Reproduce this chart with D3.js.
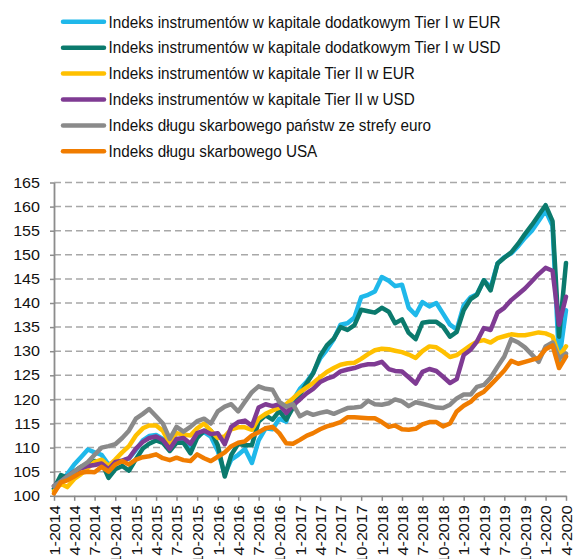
<!DOCTYPE html>
<html>
<head>
<meta charset="utf-8">
<script src="https://cdn.jsdelivr.net/npm/d3@7"></script>
<style>
  html, body { margin: 0; padding: 0; background: #fff; }
  svg { display: block; }
  text { font-family: "Liberation Sans", Arial, sans-serif; fill: #111; }
</style>
</head>
<body>
<svg id="chart" width="574" height="559"></svg>
<script>
// ---- data ----
const startMonth = "2014-01";
const seriesNames = [
  "Indeks instrumentów w kapitale dodatkowym Tier I w EUR",
  "Indeks instrumentów w kapitale dodatkowym Tier I w USD",
  "Indeks instrumentów w kapitale Tier II w EUR",
  "Indeks instrumentów w kapitale Tier II w USD",
  "Indeks długu skarbowego państw ze strefy euro",
  "Indeks długu skarbowego USA"
];
const seriesColors = ["#1fb8ea", "#0b7a6d", "#ffc000", "#7f3b93", "#8a8a8a", "#f07c00"];

const at1Eur = [101.5,103,104.5,106.5,108,109.6,109,108.5,106.5,107,
  107.3,107.7,109.5,111.5,112.4,112.6,111.8,110,111.8,111.3,
  109.8,112.5,113.2,112.3,109.3,104.5,107.5,108.5,109.7,106.8,
  111.5,114,113.8,116,115.4,119.8,122.2,123.7,125.5,128.5,
  130.3,132.5,135.5,135.8,137,141.2,141.7,142.4,145.4,144.6,
  143.5,143.8,139,137.5,140.2,139.3,140,137.8,135.5,134.5,
  139.5,141.2,141.8,144.7,143.2,148.2,149.5,150.3,151.8,153.5,
  155,157,159.2,156,128,138.5];
const at1Usd = [101.5,104.3,103.8,105,106,106.5,107.2,107,103.7,105.5,
  106.2,105.2,107.6,109.8,110.8,111.5,111,109.3,111,111,
  108.8,112,113.5,113.5,110.5,104,108.5,110.8,110.5,110.5,
  115.4,116.7,115.8,117.6,115.8,118.3,121,123.4,125.4,129,
  131.2,132.6,135,134.4,135.4,138.6,138.3,138,139,138.2,
  135.8,136.6,133.8,132.5,135.9,136.1,136.1,135.1,133,134,
  138.5,140.8,141.7,144.7,142.6,148.2,149.4,150.5,152.3,154.3,
  156.2,158.2,160.3,157,133,148.3];
const t2Eur = [101,102.5,101.8,103.5,104.5,105.8,107,107.5,106.2,107.5,
  109,110.3,112.5,114,114.6,114.6,113.5,110.8,113,112.7,
  112.5,114,115,113.5,112,112.3,113.8,114.2,114.2,113.7,
  116,117,117.7,118.3,119,120.2,121.5,122.5,123.4,124.6,
  125.7,126.5,127.2,127.5,127.6,128.4,129.4,130.2,130.5,130.4,
  130.1,129.8,129.3,128.6,130,131,130.8,129.9,128.8,129.2,
  130.2,131.2,132,132.3,131.8,132.7,133.1,133.5,133.3,133.3,
  133.6,133.9,133.7,133.1,129,131];
const t2Usd = [102,103,104,105,105.7,106.2,106.4,106.7,105.5,107,
  107.3,107.8,109.8,111.2,112,112.3,111.6,109.7,111.8,112,
  110.8,113,113.5,112.8,113,110.7,114.3,115.3,115.6,114.5,
  118.3,119,118.6,119,117.2,118.8,120,121.3,122.2,123.6,
  124.3,124.8,125.8,126.2,126.5,127,127.3,127.3,127.8,126.3,
  125.9,125.8,124.6,123.3,125.7,126.3,125.9,124.7,123.4,124.2,
  129.2,130.3,132,134.8,134.4,138,139,140.6,141.8,143,
  144.5,146,147.3,146.7,135.5,141.3];
const govEuro = [102,103,104,105,106,107,108.5,110,110.3,110.7,
  112,113.5,116,117,118,116.5,115,111.8,114.3,113.3,
  114.3,115.5,116,115,117.5,118.5,119,117.5,119.5,121.5,
  122.7,122.2,122,119.5,118.5,119,116.5,117.3,116.8,117.2,
  117.5,117,117.6,118.2,118.3,118.5,119.7,119,118.9,119.2,
  120,119.6,118.6,119.4,119.1,118.7,118.3,118.2,118.9,120.2,
  121,121,122.6,123,124.5,126.8,128.9,132.5,131.8,130.8,
  129.3,127.8,131,131.8,128.5,129.5];
const govUsa = [100.5,102.8,103.2,104,104.8,105,104.9,106,105,106.5,
  107.2,106.5,107.5,108,108.2,108.6,107.8,107.4,107.9,107.4,
  107.2,108.6,107.8,107.2,108.1,109,110.3,111,111.3,112.5,
  113.2,114,114.3,113,110.9,110.8,111.6,112.5,113,113.8,
  114.4,114.8,115.3,116.3,116.3,116.2,116.1,116.1,115.3,114.3,
  114.6,113.8,113.7,113.9,114.8,115.3,115.3,114.4,115,117.5,
  118.7,119.5,120.8,121.6,123,124.5,126,128,127.4,127.8,
  128.2,128.6,130.4,131.2,126.5,128.9];

const yTicks = [100,105,110,115,120,125,130,135,140,145,150,155,160,165];
const xTickLabels = ["1-2014","4-2014","7-2014","10-2014","1-2015","4-2015","7-2015","10-2015",
  "1-2016","4-2016","7-2016","10-2016","1-2017","4-2017","7-2017","10-2017",
  "1-2018","4-2018","7-2018","10-2018","1-2019","4-2019","7-2019","10-2019",
  "1-2020","4-2020"];

const seriesValues = [at1Eur, at1Usd, t2Eur, t2Usd, govEuro, govUsa];

// ---- layout ----
const svg = d3.select("#chart");
const plot = { left: 54, right: 566, top: 182.5, bottom: 495.8 };
const parseMonth = d3.timeParse("%Y-%m");
const parseTick = d3.timeParse("%m-%Y");
const start = parseMonth(startMonth);
const dates = at1Eur.map((_, i) => d3.timeMonth.offset(start, i));
const tickDates = xTickLabels.map(s => parseTick(s));

const x = d3.scaleTime().domain([tickDates[0], tickDates[tickDates.length - 1]]).range([plot.left, plot.right]);
const y = d3.scaleLinear().domain([100, 165]).range([plot.bottom, plot.top]);

const STRETCH = 1.15;
function stretch(sel, f) {
  sel.each(function () {
    const w = this.getComputedTextLength();
    d3.select(this).attr("textLength", w * f).attr("lengthAdjust", "spacingAndGlyphs");
  });
}

// gridlines
svg.append("g").selectAll("line").data(yTicks.filter(v => v > 100)).join("line")
  .attr("x1", plot.left).attr("x2", plot.right)
  .attr("y1", d => y(d)).attr("y2", d => y(d))
  .attr("stroke", "#a8a8a8").attr("stroke-width", 1.5).attr("stroke-dasharray", "7,4");

// y axis
const yAxis = svg.append("g").attr("transform", `translate(${plot.left},0)`)
  .call(d3.axisLeft(y).tickValues(yTicks).tickSize(4).tickSizeOuter(0).tickPadding(10));
yAxis.select(".domain").attr("stroke", "#8c8c8c").attr("stroke-width", 1.8);
yAxis.selectAll(".tick line").attr("stroke", "#8c8c8c").attr("stroke-width", 1.5);
yAxis.selectAll(".tick text").attr("font-size", 14.5).attr("fill", "#111")
  .attr("font-family", "Liberation Sans, Arial, sans-serif").attr("x", -14);
stretch(yAxis.selectAll(".tick text"), 1.11);

// x axis
const xAxis = svg.append("g").attr("transform", `translate(0,${plot.bottom})`)
  .call(d3.axisBottom(x).tickValues(tickDates).tickFormat((d, i) => xTickLabels[i]).tickSize(5).tickSizeOuter(0));
xAxis.select(".domain").attr("stroke", "#8c8c8c").attr("stroke-width", 1.8);
xAxis.selectAll(".tick line").attr("stroke", "#8c8c8c").attr("stroke-width", 1.5);
xAxis.selectAll(".tick text").attr("font-size", 14.5).attr("fill", "#111")
  .attr("font-family", "Liberation Sans, Arial, sans-serif")
  .attr("text-anchor", "end")
  .attr("transform", "rotate(-90)")
  .attr("x", -9.5).attr("y", 0).attr("dy", "0.36em");
stretch(xAxis.selectAll(".tick text"), 1.11);

// lines
const line = d3.line().x((d, i) => x(dates[i])).y(d => y(d));
svg.append("g").selectAll("path").data(seriesValues).join("path")
  .attr("d", d => line(d))
  .attr("fill", "none")
  .attr("stroke", (d, i) => seriesColors[i])
  .attr("stroke-width", 4.5)
  .attr("stroke-linejoin", "round")
  .attr("stroke-linecap", "round");

// legend
const legend = svg.append("g");
const legY0 = 21.8, legStep = 25.9;
const rows = legend.selectAll("g").data(seriesNames).join("g")
  .attr("transform", (d, i) => `translate(0,${legY0 + i * legStep})`);
rows.append("line").attr("x1", 63).attr("x2", 104).attr("y1", 0).attr("y2", 0)
  .attr("stroke", (d, i) => seriesColors[i]).attr("stroke-width", 4.5).attr("stroke-linecap", "round");
const legText = rows.append("text").attr("x", 108.5).attr("y", 0).attr("dy", "0.36em")
  .attr("font-size", 16).text(d => d);
const w0 = legText.node().getComputedTextLength();
const legFactor = 392 / w0;
stretch(legText, legFactor);
</script>
</body>
</html>
